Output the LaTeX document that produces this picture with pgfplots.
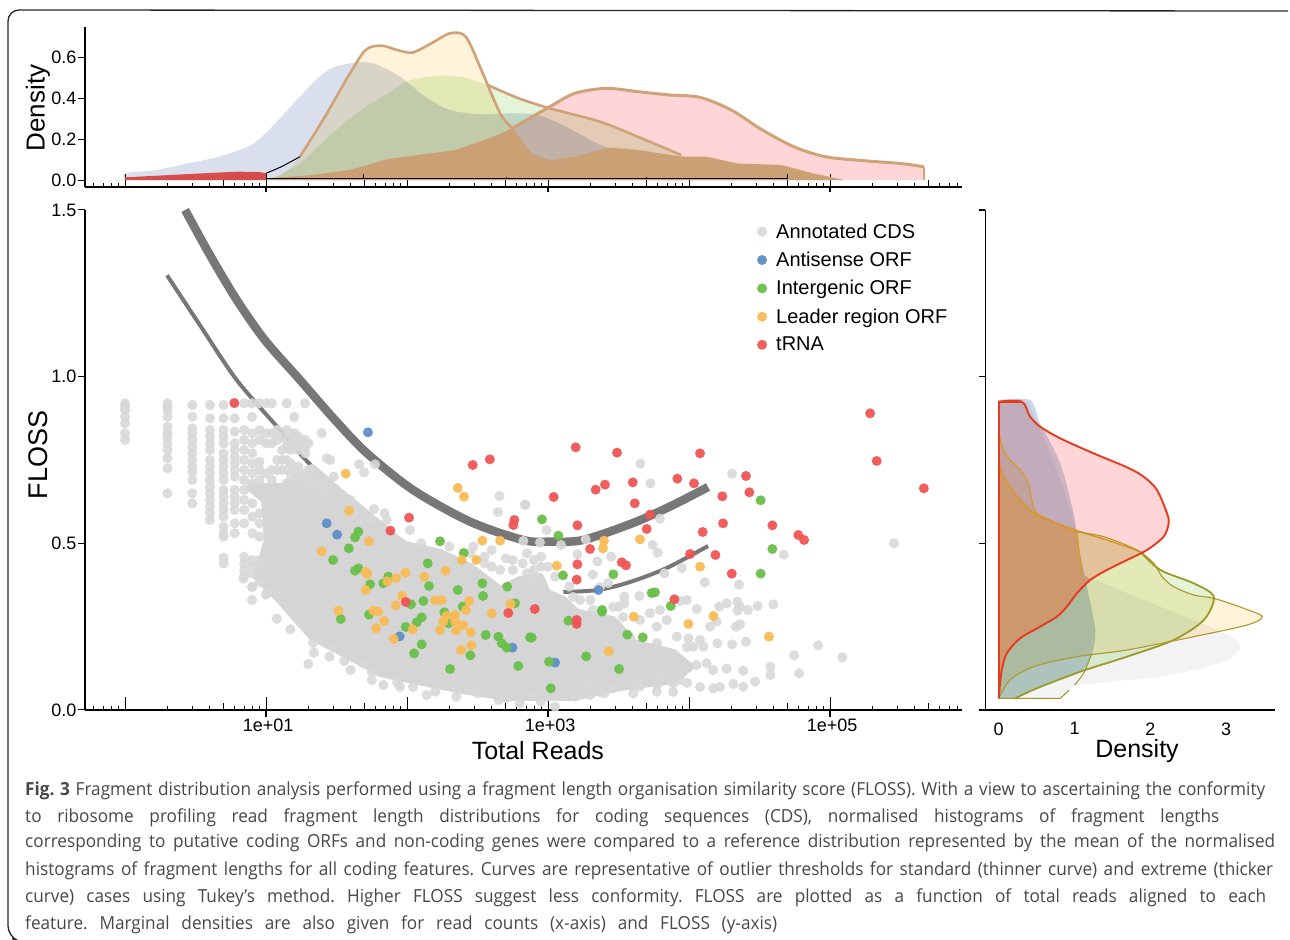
\documentclass[border=0pt]{standalone}
\usepackage{pgfplots}
\pgfplotsset{compat=1.18}
\usepackage{pgfplotstable}
\usepackage{fontspec}
\setmainfont{Liberation Sans}
\newfontfamily\capfont[FakeStretch=0.955]{Open Sans}
\definecolor{gpt}{HTML}{D8D8D8}
\definecolor{gblob}{HTML}{D5D5D5}
\definecolor{bpt}{HTML}{5F8FC6}
\definecolor{lpt}{HTML}{69BF4A}
\definecolor{opt}{HTML}{F9BB55}
\definecolor{rpt}{HTML}{EF5555}
\definecolor{tan}{HTML}{CFA377}
\definecolor{brown}{HTML}{CBA074}
\definecolor{curve}{HTML}{777777}
\definecolor{fblue}{HTML}{D9DFEC}
\definecolor{fblueR}{HTML}{CCD8E8}
\definecolor{fgreen}{HTML}{E3F4D8}
\definecolor{fcream}{HTML}{FFF3D9}
\definecolor{fpink}{HTML}{FFD5D7}
\definecolor{fgrey}{HTML}{F3F3F3}
\definecolor{olive}{HTML}{9C9A28}
\definecolor{amber}{HTML}{D9962B}
\definecolor{redline}{HTML}{E53A1E}
\tikzset{sfnt/.style={font=\fontsize{#1bp}{#1bp}\selectfont}}
% ---- marginal densities, total reads (log10 reads, density)
\pgfplotstableread{
x y
0 0
0 .033
.222 .049
.443 .081
.665 .114
.886 .168
1.019 .244
1.197 .375
1.330 .473
1.463 .546
1.640 .575
1.773 .567
1.950 .505
2.128 .408
2.305 .342
2.527 .321
2.748 .326
2.926 .318
3.103 .269
3.325 .187
3.435 .155
3.635 .114
3.945 .081
4.344 .049
4.698 .008
4.70 0
}\tAnti
\pgfplotstableread{
x y
1.0 0
1.064 .016
1.241 .081
1.418 .196
1.640 .326
1.862 .424
1.995 .481
2.128 .502
2.261 .510
2.394 .502
2.571 .465
2.793 .399
3.014 .350
3.369 .285
3.635 .212
3.945 .122
4.122 .081
4.433 .024
4.698 0
}\tInter
\pgfplotstableread{
x y
1.0 0
1.108 .024
1.241 .114
1.418 .310
1.596 .522
1.707 .636
1.817 .657
1.928 .636
2.039 .623
2.172 .668
2.305 .717
2.416 .701
2.527 .538
2.660 .326
2.748 .253
2.881 .130
3.014 .095
3.191 .114
3.435 .158
3.635 .147
3.945 .114
4.122 .114
4.344 .081
4.654 .073
4.876 .033
5.098 0
}\tLead
\pgfplotstableread{
x y
1.0 0
1.019 .008
1.330 .024
1.596 .049
1.862 .101
2.128 .126
2.349 .147
2.615 .212
2.748 .253
3.014 .359
3.191 .424
3.413 .448
3.635 .432
3.856 .416
4.078 .404
4.300 .342
4.521 .244
4.743 .163
4.965 .114
5.231 .095
5.497 .081
5.665 .065
5.665 0
}\tRna
% ---- marginal densities, FLOSS (density, FLOSS)
\pgfplotstableread{
x y
0 .035
.811 .035
.987 .07
1.471 .085
2.132 .10
2.661 .125
3.013 .15
3.181 .185
3.101 .215
2.837 .245
2.617 .265
2.132 .31
1.692 .35
1.339 .385
1.097 .412
1.053 .49
1.031 .535
.811 .69
.458 .89
.326 .93
0 .93
}\rCds
\pgfplotstableread{
x y
0 .93
.414 .93
.546 .86
.811 .74
.987 .59
1.053 .49
1.163 .37
1.273 .24
1.229 .17
1.075 .115
.502 .065
.216 .035
0 .035
}\rAnti
\pgfplotstableread{
x y
0 .75
.062 .70
.282 .63
.502 .585
1.009 .54
1.427 .51
1.868 .475
2.132 .42
2.573 .38
2.837 .34
2.705 .27
2.308 .21
1.692 .16
1.075 .115
.502 .065
.216 .035
0 .035
}\rInter
\pgfplotstableread{
x y
0 .83
.062 .78
.150 .75
.282 .72
.392 .68
.436 .63
.502 .59
.767 .56
1.009 .535
1.383 .52
1.824 .48
2.044 .44
2.154 .40
2.308 .37
2.573 .345
2.837 .335
3.233 .305
3.476 .28
3.278 .255
2.573 .22
1.692 .18
1.031 .16
.458 .13
.150 .09
0 .035
}\rLead
\pgfplotstableread{
x y
0 .925
.304 .925
.414 .88
.546 .85
.811 .815
1.251 .77
1.692 .728
1.912 .70
2.088 .66
2.220 .59
2.242 .56
2.176 .52
1.956 .48
1.692 .45
1.427 .42
1.207 .39
1.031 .35
.899 .31
.767 .28
.546 .25
.282 .215
.106 .17
.040 .12
.009 .06
0 .035
}\rRna
% ---- scatter (log10 reads, FLOSS)
\pgfplotstableread{
x y
.887 .669
1.135 .669
1.326 .726
1.546 .645
1.809 .555
1.915 .516
1.986 .495
2.234 .471
2.447 .429
2.660 .360
2.801 .390
2.943 .399
2.993 .351
3.106 .330
3.206 .291
3.461 .270
3.603 .201
3.887 .171
4.007 .129
3.887 .090
3.511 .069
3.177 .039
2.709 .039
2.397 .060
2.043 .090
1.809 .111
1.645 .150
1.333 .219
1.241 .261
1.099 .330
.936 .399
1.014 .510
.993 .630
}\cloud
\pgfplotstableread{
x y
0 .92
0 .91
0 .90
0 .88
0 .86
0 .83
0 .81
.301 .92
.301 .91
.301 .90
.301 .88
.301 .85
.301 .83
.301 .82
.301 .80
.301 .78
.301 .755
.301 .725
.301 .65
.477 .915
.477 .88
.477 .845
.477 .83
.477 .81
.477 .79
.477 .77
.477 .75
.477 .73
.477 .715
.477 .69
.477 .65
.477 .62
.602 .915
.602 .875
.602 .84
.602 .82
.602 .80
.602 .78
.602 .75
.602 .73
.602 .71
.602 .69
.602 .67
.602 .65
.602 .63
.602 .61
.602 .59
.602 .57
.699 .915
.699 .875
.699 .84
.699 .82
.699 .80
.699 .77
.699 .75
.699 .73
.699 .71
.699 .69
.699 .66
.699 .64
.699 .62
.699 .60
.699 .58
.699 .55
.699 .53
.699 .52
.699 .457
.699 .44
.778 .92
.778 .875
.778 .835
.778 .80
.778 .78
.778 .76
.778 .74
.778 .72
.778 .70
.778 .66
.778 .64
.778 .62
.778 .60
.778 .56
.778 .53
.845 .92
.90 .92
.95 .92
1.0 .92
1.04 .92
1.147 .92
1.277 .92
.90 .879
1.20 .879
1.395 .831
1.277 .787
1.454 .75
1.43 .755
1.66 .737
1.695 .713
1.773 .737
1.766 .603
1.856 .57
1.84 .59
2.021 .54
2.655 .642
2.645 .594
2.837 .615
.845 .84
.845 .81
.845 .78
.845 .75
.845 .72
.845 .69
.845 .66
.903 .83
.903 .80
.903 .77
.903 .74
.903 .71
.903 .68
.954 .84
.954 .81
.954 .745
.954 .72
.954 .69
1.0 .83
1.0 .80
1.0 .71
1.041 .83
1.041 .80
1.041 .72
1.041 .69
1.079 .84
1.079 .81
1.079 .75
1.079 .72
1.114 .82
1.114 .78
1.114 .75
1.114 .72
1.146 .84
1.146 .81
1.146 .79
1.146 .75
1.146 .72
1.146 .68
1.176 .83
1.176 .80
1.176 .78
1.176 .74
1.176 .70
1.204 .83
1.204 .81
1.204 .79
1.204 .72
1.23 .82
1.23 .80
1.23 .78
1.23 .73
1.23 .70
1.255 .81
1.255 .79
1.279 .81
1.279 .77
1.279 .71
1.301 .80
1.301 .72
1.322 .70
1.342 .69
1.38 .66
1.43 .65
1.43 .63
.845 .63
.845 .60
.845 .56
.845 .46
.845 .44
.845 .42
.845 .40
.903 .62
.903 .58
.903 .53
.903 .45
.903 .43
.903 .41
.903 .37
.954 .59
.954 .56
.954 .52
.954 .45
.954 .43
.839 .394
.901 .33
.998 .346
1.076 .274
1.172 .242
1.30 .138
1.34 .172
1.555 .147
1.832 .075
2.14 .045
1.36 .66
1.5 .62
1.62 .60
1.75 .57
2.1 .50
2.3 .49
2.45 .47
2.55 .44
2.66 .42
2.75 .45
2.85 .47
2.95 .43
3.05 .40
3.15 .37
3.3 .33
3.5 .31
1.45 .16
1.6 .12
1.75 .09
1.95 .07
2.2 .055
2.35 .04
2.5 .05
2.65 .03
2.8 .02
2.95 .025
3.05 .01
3.3 .045
3.4 .05
3.65 .07
3.8 .10
3.95 .11
3.655 .739
3.726 .680
2.839 .616
4.305 .709
3.794 .574
2.825 .507
2.943 .502
2.990 .540
3.092 .495
3.267 .512
3.208 .467
3.350 .446
3.447 .460
3.317 .406
3.742 .495
3.778 .472
3.948 .426
3.825 .410
4.111 .383
4.355 .376
5.454 .500
4.672 .466
3.648 .342
3.541 .340
3.541 .320
3.723 .291
3.794 .300
3.842 .270
3.771 .250
3.936 .327
3.983 .330
4.054 .303
4.215 .310
4.267 .320
4.343 .325
4.362 .310
4.343 .298
4.418 .300
4.487 .312
4.598 .317
4.333 .250
4.362 .257
4.149 .250
4.196 .265
4.201 .200
4.305 .197
4.404 .205
4.078 .210
4.031 .190
4.102 .190
3.995 .215
3.913 .220
4.915 .194
4.745 .164
5.087 .158
4.782 .110
4.577 .130
4.577 .105
4.468 .085
4.385 .118
4.385 .070
4.314 .078
4.267 .124
4.173 .065
4.125 .140
4.054 .135
3.936 .09
3.889 .08
3.771 .055
3.605 .05
3.191 .04
3.177 .339
3.227 .330
3.369 .369
3.426 .381
3.319 .30
3.461 .309
3.532 .279
3.652 .27
3.582 .219
3.773 .201
3.986 .189
4.22 .069
4.17 .12
4.078 .069
3.986 .081
3.887 .054
3.773 .075
3.603 .075
3.461 .066
3.369 .054
3.277 .075
3.085 .045
2.894 .045
2.695 .036
2.922 .381
2.858 .39
1.333 .201
1.475 .189
1.688 .141
1.752 .114
1.929 .084
2.043 .069
2.284 .075
2.468 .06
2.709 .036
1.007 .351
.901 .369
.957 .384
2.55 .46
2.6 .43
2.7 .455
2.75 .42
2.82 .44
2.85 .41
2.9 .45
2.9 .42
2.95 .46
3.0 .43
2.47 .49
2.6 .48
1.3 .68
1.4 .68
1.48 .70
1.6 .63
}\cds
\pgfplotstableread{
x y
1.723 .833
1.430 .560
1.504 .526
1.948 .221
2.747 .187
3.050 .142
3.357 .360
}\anti
\pgfplotstableread{
x y
2.234 .506
2.402 .471
2.147 .440
1.655 .535
1.631 .518
1.587 .485
1.475 .450
1.655 .425
1.631 .418
1.867 .400
1.738 .377
1.832 .380
2.156 .372
2.360 .360
2.534 .380
2.539 .342
2.711 .370
2.766 .320
2.028 .317
2.116 .327
2.395 .310
2.265 .293
1.730 .286
1.530 .273
2.104 .278
2.069 .263
2.293 .260
1.991 .249
2.558 .225
2.648 .220
2.672 .200
2.707 .187
2.104 .197
2.050 .170
2.449 .164
2.305 .123
2.789 .132
2.872 .218
2.957 .572
3.073 .523
3.106 .404
3.463 .407
4.508 .629
4.591 .483
4.508 .409
3.759 .353
3.735 .351
3.870 .312
3.383 .295
3.383 .300
3.144 .268
3.562 .226
3.672 .218
2.884 .217
3.270 .161
3.007 .145
3.504 .123
3.019 .065
}\inter
\pgfplotstableread{
x y
1.565 .709
2.360 .666
2.404 .640
1.589 .598
1.730 .506
2.534 .508
2.660 .508
1.395 .476
2.388 .450
2.491 .450
2.274 .418
1.707 .414
1.718 .408
1.988 .412
2.123 .400
1.922 .396
1.860 .386
1.707 .360
1.965 .342
1.920 .314
2.199 .329
2.246 .330
2.440 .327
2.418 .300
2.735 .318
2.600 .290
1.513 .298
1.761 .298
1.796 .295
1.837 .267
1.780 .245
2.040 .242
1.906 .213
2.281 .283
2.340 .285
2.257 .265
2.234 .240
2.340 .265
2.348 .238
2.399 .255
2.452 .233
2.456 .194
2.383 .180
3.397 .508
3.390 .485
3.652 .512
3.062 .433
4.078 .430
3.608 .280
4.173 .282
3.995 .258
4.567 .220
3.430 .176
}\lead
\pgfplotstableread{
x y
.775 .921
2.466 .735
2.587 .752
2.761 .570
2.754 .555
2.014 .577
1.882 .538
1.991 .324
2.718 .291
2.906 .303
3.196 .788
3.489 .772
4.078 .770
4.404 .702
5.284 .890
5.331 .747
5.665 .665
4.428 .653
4.236 .641
3.917 .694
4.035 .680
3.601 .683
3.404 .676
3.338 .661
3.040 .639
3.615 .620
3.723 .586
4.241 .560
4.591 .554
3.208 .554
3.700 .543
4.097 .534
4.775 .525
4.816 .510
3.298 .483
4.187 .465
4.007 .468
3.208 .437
3.523 .443
3.553 .434
4.303 .409
3.203 .391
3.896 .332
3.203 .270
3.203 .258
}\trna
\pgfplotsset{
  logx/.style={
    xmin=-.284, xmax=5.936,
    axis x line*=bottom, axis y line*=left,
    xtick={0,.699,1,1.699,2,2.699,3,3.699,4,4.699,5,5.699},
    x tick style={black,line width=.9bp},
    y tick style={black,line width=1bp},
    xtick align=inside,
    major tick length=7bp,
    minor tick length=4bp,
    minor xtick={-.222,-.155,-.097,-.046,.301,.477,.602,.778,.845,.903,.954,1.301,1.477,1.602,1.778,1.845,1.903,1.954,2.301,2.477,2.602,2.778,2.845,2.903,2.954,3.301,3.477,3.602,3.778,3.845,3.903,3.954,4.301,4.477,4.602,4.778,4.845,4.903,4.954,5.301,5.477,5.602,5.778,5.845,5.903},
    extra x ticks={0,1,2,3,4,5},
    extra x tick labels={},
    extra x tick style={major tick length=13bp},
    axis line style={black,line width=1.1bp},
    clip=false, scale only axis,
    ytick align=outside,
  },
}
\begin{document}
\begin{tikzpicture}[x=1bp,y=1bp]
\useasboundingbox (0,0) rectangle (1290,940);
% frame of the figure box
\draw[black!85,line width=1.3bp,rounded corners=11bp] (1288,929) -- (8,930) -- (8,3) -- (12,1.5);
% ---------- main panel
\begin{axis}[logx, at={(85bp,230bp)}, anchor=south west, width=877bp, height=500bp,
  ymin=0, ymax=1.5, ytick={0,.5,1,1.5}, yticklabels={0.0,0.5,1.0,1.5},
  xticklabels={,,1e+01,,,,1e+03,,,,1e+05,},
  tick label style={sfnt=18},
  yticklabel style={xshift=2bp},
  xticklabel style={yshift=-5bp,xshift=2bp},
  xlabel={Total Reads}, ylabel={FLOSS},
  every axis x label/.style={at={(axis description cs:.5165,-.082)},anchor=center,sfnt=25},
  every axis y label/.style={at={(axis description cs:-.0536,.51)},rotate=90,anchor=center,sfnt=27},
  legend style={at={(.766,.977)},anchor=north west,draw=none,fill=none,font=\fontsize{20bp}{20bp}\selectfont,row sep=8.4bp,inner sep=0pt,/tikz/every odd column/.append style={column sep=7bp}},
  legend cell align=left,
  ]
\addplot[curve,line width=8.5bp,smooth,forget plot] coordinates {(.426,1.5)(.603,1.364)(.794,1.229)(.993,1.109)(1.241,.990)(1.489,.870)(1.714,.771)(2.043,.660)(2.447,.565)(2.823,.510)(3.014,.505)(3.248,.510)(3.603,.561)(3.887,.615)(4.135,.669)};
\addplot[curve,line width=4bp,smooth,forget plot] coordinates {(.298,1.304)(.532,1.154)(.792,.99)(1.099,.840)(1.262,.759)(1.546,.639)(1.809,.549)};
\addplot[curve,line width=4bp,smooth,forget plot] coordinates {(3.108,.354)(3.355,.360)(3.582,.384)(3.842,.426)(4.135,.492)};
\addplot[fill=gblob,draw=gblob,line width=8bp,line join=round,forget plot] table {\cloud} -- cycle;
\addplot[only marks,mark=*,mark size=5.1bp,mark options={draw=gpt,line width=0pt,fill=gpt,fill opacity=.9,draw opacity=0}] table {\cds};
\addplot[only marks,mark=*,mark size=5bp,mark options={draw=bpt,line width=0pt,fill=bpt,fill opacity=.95,draw opacity=0}] table {\anti};
\addplot[only marks,mark=*,mark size=5bp,mark options={draw=lpt,line width=0pt,fill=lpt,fill opacity=.95,draw opacity=0}] table {\inter};
\addplot[only marks,mark=*,mark size=5bp,mark options={draw=opt,line width=0pt,fill=opt,fill opacity=.95,draw opacity=0}] table {\lead};
\addplot[only marks,mark=*,mark size=5bp,mark options={draw=rpt,line width=0pt,fill=rpt,fill opacity=.95,draw opacity=0}] table {\trna};
\legend{Annotated CDS,Antisense ORF,Intergenic ORF,Leader region ORF,tRNA}
% crossing part of the labelled ticks
\addplot[black,line width=1.1bp,forget plot] coordinates {(1,-.021)(1,0)};
\addplot[black,line width=1.1bp,forget plot] coordinates {(3,-.021)(3,0)};
\addplot[black,line width=1.1bp,forget plot] coordinates {(5,-.021)(5,0)};
\end{axis}
% ---------- top marginal
\begin{axis}[logx, at={(85bp,753bp)}, anchor=south west, width=877bp, height=160bp,
  ymin=-.034, ymax=.748, ytick={0,.2,.4,.6}, yticklabels={0.0,0.2,0.4,0.6},
  xticklabels={},
  tick label style={sfnt=18},
  yticklabel style={xshift=2bp},
  ylabel={Density},
  every axis y label/.style={at={(axis description cs:-.0536,.494)},rotate=90,anchor=center,sfnt=26},
  ]
\addplot[fill=fblue,draw=none,smooth,tension=.5,blend mode=multiply] table {\tAnti} -- cycle;
\addplot[fill=fgreen,draw=none,smooth,tension=.5,blend mode=multiply] table {\tInter} -- cycle;
\addplot[fill=fcream,draw=none,smooth,tension=.5,blend mode=multiply] table {\tLead} -- cycle;
\addplot[fill=fpink,draw=none,smooth,tension=.5,blend mode=multiply] table {\tRna} -- cycle;
% overlap of leader region ORF and tRNA
\addplot[fill=brown,draw=none] coordinates {(1.019,.008)(1.330,.024)(1.596,.049)(1.862,.101)(2.128,.126)(2.349,.147)(2.615,.212)(2.748,.253)(2.881,.130)(3.014,.095)(3.191,.114)(3.435,.158)(3.635,.147)(3.945,.114)(4.122,.114)(4.344,.081)(4.654,.073)(4.876,.033)(5.098,0)(1.019,0)} -- cycle;
\addplot[fill=rpt!90!black,draw=none] coordinates {(0,.013)(.443,.029)(.798,.041)(.95,.039)(1.0,.033)(1,0)(0,0)} -- cycle;
% thick outlines
\addplot[tan,line width=2.6bp,smooth,tension=.5] coordinates {(1.241,.114)(1.418,.310)(1.596,.522)(1.707,.636)(1.817,.657)(1.928,.636)(2.039,.623)(2.172,.668)(2.305,.717)(2.416,.701)(2.527,.538)(2.660,.326)(2.748,.253)};
\addplot[tan,line width=2.6bp,smooth,tension=.5] coordinates {(2.571,.465)(2.793,.399)(3.014,.350)(3.369,.285)(3.635,.212)(3.945,.122)};
\addplot[tan,line width=3bp,smooth,tension=.5] coordinates {(2.748,.253)(3.014,.359)(3.191,.424)(3.413,.448)(3.635,.432)(3.856,.416)(4.078,.404)(4.300,.342)(4.521,.244)(4.743,.163)(4.965,.114)(5.231,.095)(5.497,.081)(5.665,.065)};
\addplot[tan,line width=2bp] coordinates {(5.665,.065)(5.665,0)};
\addplot[black,line width=1bp,smooth] coordinates {(1,.033)(1.108,.065)(1.241,.114)};
% second baseline
\addplot[black,line width=1.1bp] coordinates {(1,.006)(4.70,.006)};
\addplot[black,line width=1bp] coordinates {(1.693,.006)(1.693,.03)};
\addplot[black,line width=1bp] coordinates {(2.704,.006)(2.704,.016)};
\addplot[black,line width=1bp] coordinates {(3.70,.006)(3.70,.016)};
\addplot[black,line width=1bp] coordinates {(4.70,.006)(4.70,.03)};
% crossing part of the labelled ticks
\addplot[black,line width=1.1bp] coordinates {(1,-.06)(1,-.03)};
\addplot[black,line width=1.1bp] coordinates {(3,-.06)(3,-.03)};
\addplot[black,line width=1.1bp] coordinates {(5,-.06)(5,-.03)};
\end{axis}
% ---------- right marginal
\begin{axis}[at={(985.3bp,230bp)}, anchor=south west, width=289.7bp, height=500bp, scale only axis,
  xmin=-.177, xmax=3.645, ymin=0, ymax=1.5,
  axis x line*=bottom, axis y line*=left,
  axis line style={black,line width=1.1bp},
  xtick={0,1,2,3}, xticklabels={0,1,2,3},
  ytick={0,.5,1,1.5}, yticklabels={},
  x tick style={draw=none}, y tick style={black,line width=1.1bp},
  tick align=outside, major tick length=6bp,
  tick label style={sfnt=18},
  xticklabel style={yshift=-3bp},
  xlabel={Density},
  every axis x label/.style={at={(axis description cs:.5237,-.082)},anchor=center,sfnt=25},
  clip=false,
  ]
\addplot[fill=fgrey,draw=none,smooth,tension=.5,blend mode=multiply] table {\rCds} -- cycle;
\addplot[fill=fblueR,draw=none,smooth,tension=.5,blend mode=multiply] table {\rAnti} -- cycle;
\addplot[fill=fgreen,draw=none,smooth,tension=.5,blend mode=multiply] table {\rInter} -- cycle;
\addplot[fill=fcream,draw=none,smooth,tension=.5,blend mode=multiply] table {\rLead} -- cycle;
\addplot[fill=fpink,draw=none,smooth,tension=.5,blend mode=multiply] table {\rRna} -- cycle;
% overlap of all densities
\addplot[fill=brown!95!red,draw=none] coordinates {(0,.75)(.062,.70)(.15,.665)(.282,.63)(.502,.585)(.767,.56)(1.009,.54)(1.031,.535)(1.053,.49)(1.097,.412)(1.207,.39)(1.031,.35)(.899,.31)(.767,.28)(.546,.25)(.282,.215)(.106,.17)(.040,.12)(.009,.06)(0,.035)} -- cycle;
% green outline (orange above, olive below)
\addplot[amber,line width=1.5bp,smooth,tension=.5] coordinates {(0,.75)(.062,.70)(.282,.63)(.502,.585)(1.009,.54)(1.427,.51)(1.868,.475)};
\addplot[olive,line width=1.8bp,smooth,tension=.5] coordinates {(1.868,.475)(2.132,.42)(2.573,.38)(2.837,.34)(2.705,.27)(2.308,.21)(1.692,.16)(1.075,.115)(.502,.065)(.216,.035)};
% leader outline
\addplot[amber,line width=1.2bp,smooth,tension=.5] coordinates {(0,.83)(.062,.78)(.150,.75)(.282,.72)(.392,.68)(.436,.63)(.502,.59)(.767,.56)(1.009,.535)};
\addplot[olive!70!amber,line width=1.1bp,smooth,tension=.5] coordinates {(1.009,.535)(1.383,.52)(1.824,.48)(2.044,.44)(2.154,.40)(2.308,.37)(2.573,.345)(2.837,.335)(3.233,.305)(3.476,.28)(3.278,.255)(2.573,.22)(1.692,.18)(1.031,.16)(.458,.13)(.150,.09)(0,.035)};
% annotated CDS upper edge, antisense lower edge
\addplot[amber,line width=1.2bp,smooth] coordinates {(1.031,.535)(1.053,.49)(1.097,.412)};
\addplot[olive,line width=1bp,smooth] coordinates {(1.229,.17)(1.119,.11)(1.0,.075)};
\addplot[olive,line width=1bp] coordinates {(.93,.06)(.811,.035)(0,.035)};
% tRNA outline
\addplot[redline,line width=1.9bp,smooth,tension=.5] table {\rRna};
\addplot[redline,line width=1.9bp] coordinates {(0,.035)(0,.925)(.304,.925)};
\end{axis}
% ---------- caption
\begin{scope}[every node/.style={anchor=base west,inner sep=0pt,text=black!72}]
\node at (25,144) {\hbox to 1240bp{\capfont\fontsize{18bp}{18bp}\selectfont\frenchspacing\textbf{Fig. 3} Fragment distribution analysis performed using a fragment length organisation similarity score (FLOSS). With a view to ascertaining the conformity}};
\node at (25,117) {\hbox to 1194bp{\capfont\fontsize{18bp}{18bp}\selectfont\frenchspacing to ribosome profiling read fragment length distributions for coding sequences (CDS), normalised histograms of fragment lengths}};
\node at (25,92) {\hbox to 1250bp{\capfont\fontsize{18bp}{18bp}\selectfont\frenchspacing corresponding to putative coding ORFs and non-coding genes were compared to a reference distribution represented by the mean of the normalised}};
\node at (25,64) {\hbox to 1248bp{\capfont\fontsize{18bp}{18bp}\selectfont\frenchspacing histograms of fragment lengths for all coding features. Curves are representative of outlier thresholds for standard (thinner curve) and extreme (thicker}};
\node at (25,37) {\hbox to 1241bp{\capfont\fontsize{18bp}{18bp}\selectfont\frenchspacing curve) cases using Tukey’s method. Higher FLOSS suggest less conformity. FLOSS are plotted as a function of total reads aligned to each}};
\node at (25,10) {\hbox to 752bp{\capfont\fontsize{18bp}{18bp}\selectfont\frenchspacing feature. Marginal densities are also given for read counts (x-axis) and FLOSS (y-axis)}};
\end{scope}
\end{tikzpicture}
\end{document}
